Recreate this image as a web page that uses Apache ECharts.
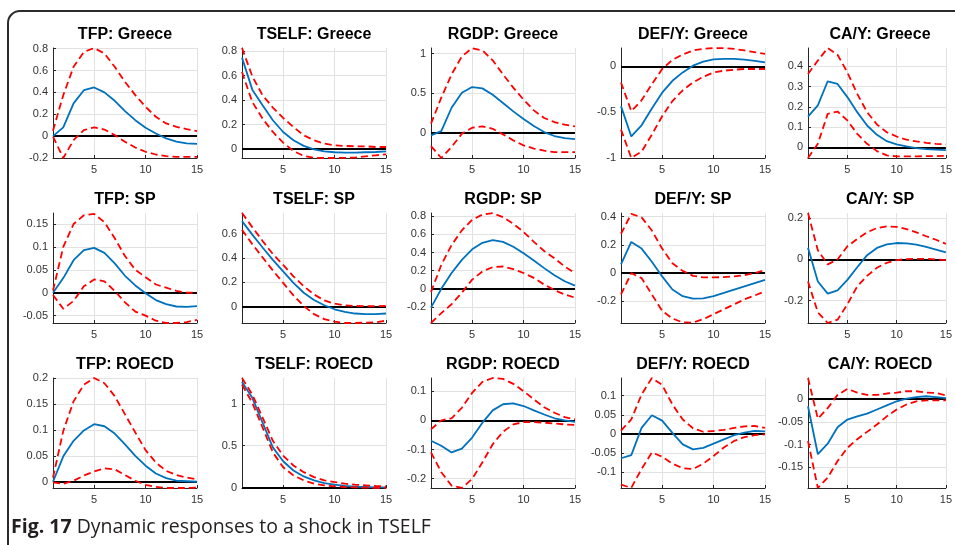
<!DOCTYPE html>
<html>
<head>
<meta charset="utf-8">
<title>Fig. 17</title>
<script src="https://cdn.jsdelivr.net/npm/echarts@6.0.0/dist/echarts.min.js"></script>
<style>
html, body { margin: 0; padding: 0; background: #fff; }
#chart { width: 955px; height: 545px; }
</style>
</head>
<body>
<div id="chart"></div>
<script type="application/javascript">

// horizons 1..15
var steps = ['1','2','3','4','5','6','7','8','9','10','11','12','13','14','15'];

// ---- Greece ----
var tfpGreeceMean = [0, 0.08, 0.30, 0.42, 0.445, 0.40, 0.323, 0.229, 0.146, 0.076, 0.024, -0.02, -0.05, -0.067, -0.07];
var tfpGreeceHi   = [0.05, 0.375, 0.634, 0.77, 0.805, 0.756, 0.634, 0.497, 0.375, 0.268, 0.177, 0.116, 0.085, 0.064, 0.046];
var tfpGreeceLo   = [-0.005, -0.2, -0.037, 0.055, 0.08, 0.06, 0.01, -0.052, -0.104, -0.143, -0.168, -0.183, -0.19, -0.19, -0.19];

var tselfGreeceMean = [0.748, 0.486, 0.358, 0.235, 0.139, 0.071, 0.025, -0.003, -0.019, -0.027, -0.03, -0.03, -0.027, -0.025, -0.02];
var tselfGreeceHi   = [0.827, 0.595, 0.44, 0.339, 0.254, 0.18, 0.112, 0.071, 0.044, 0.03, 0.025, 0.022, 0.022, 0.016, 0.016];
var tselfGreeceLo   = [0.63, 0.385, 0.249, 0.139, 0.052, -0.016, -0.057, -0.072, -0.074, -0.074, -0.073, -0.071, -0.06, -0.052, -0.044];

var rgdpGreeceMean = [-0.034, 0.02, 0.316, 0.506, 0.578, 0.561, 0.48, 0.376, 0.27, 0.173, 0.084, 0.008, -0.042, -0.068, -0.08];
var rgdpGreeceHi   = [0.114, 0.443, 0.738, 0.966, 1.07, 1.042, 0.916, 0.738, 0.57, 0.418, 0.283, 0.186, 0.135, 0.101, 0.08];
var rgdpGreeceLo   = [-0.169, -0.32, -0.18, -0.013, 0.063, 0.08, 0.05, -0.021, -0.097, -0.16, -0.2, -0.228, -0.245, -0.245, -0.245];

var defGreeceMean = [-0.434, -0.765, -0.643, -0.46, -0.287, -0.158, -0.066, 0.007, 0.051, 0.077, 0.081, 0.081, 0.074, 0.059, 0.044];
var defGreeceHi   = [-0.176, -0.489, -0.371, -0.195, -0.029, 0.07, 0.129, 0.173, 0.191, 0.2, 0.199, 0.191, 0.173, 0.154, 0.136];
var defGreeceLo   = [-0.69, -1.0, -0.93, -0.746, -0.544, -0.379, -0.261, -0.176, -0.114, -0.066, -0.048, -0.037, -0.029, -0.029, -0.029];

var caGreeceMean = [0.152, 0.207, 0.326, 0.313, 0.248, 0.174, 0.108, 0.062, 0.031, 0.015, 0.005, -0.003, -0.008, -0.011, -0.013];
var caGreeceHi   = [0.362, 0.428, 0.49, 0.457, 0.37, 0.264, 0.174, 0.113, 0.075, 0.054, 0.038, 0.03, 0.023, 0.018, 0.015];
var caGreeceLo   = [-0.052, 0.018, 0.166, 0.177, 0.133, 0.067, 0.018, -0.018, -0.039, -0.044, -0.044, -0.044, -0.043, -0.043, -0.041];

// ---- SP ----
var tfpSpMean = [0, 0.032, 0.071, 0.093, 0.098, 0.087, 0.064, 0.037, 0.016, -0.001, -0.016, -0.025, -0.03, -0.031, -0.029];
var tfpSpHi   = [0.005, 0.1, 0.15, 0.169, 0.172, 0.154, 0.119, 0.08, 0.05, 0.034, 0.018, 0.011, 0.004, 0, 0];
var tfpSpLo   = [-0.005, -0.035, -0.018, 0.014, 0.029, 0.025, 0.004, -0.021, -0.041, -0.05, -0.061, -0.066, -0.066, -0.064, -0.059];

var tselfSpMean = [0.703, 0.592, 0.486, 0.384, 0.289, 0.195, 0.114, 0.054, 0.011, -0.022, -0.043, -0.057, -0.062, -0.062, -0.057];
var tselfSpHi   = [0.77, 0.654, 0.54, 0.432, 0.343, 0.249, 0.168, 0.1, 0.051, 0.024, 0.011, 0.005, 0.003, 0.003, 0.005];
var tselfSpLo   = [0.632, 0.514, 0.405, 0.297, 0.195, 0.092, 0.005, -0.062, -0.103, -0.124, -0.135, -0.135, -0.132, -0.13, -0.116];

var rgdpSpMean = [-0.207, 0, 0.174, 0.319, 0.435, 0.507, 0.536, 0.518, 0.464, 0.391, 0.312, 0.228, 0.149, 0.083, 0.036];
var rgdpSpHi   = [-0.036, 0.264, 0.482, 0.645, 0.761, 0.819, 0.835, 0.79, 0.717, 0.627, 0.518, 0.417, 0.337, 0.246, 0.174];
var rgdpSpLo   = [-0.377, -0.268, -0.17, -0.043, 0.101, 0.192, 0.239, 0.246, 0.217, 0.174, 0.12, 0.047, -0.014, -0.062, -0.098];

var defSpMean = [0.063, 0.221, 0.174, 0.081, -0.023, -0.116, -0.163, -0.181, -0.179, -0.163, -0.14, -0.116, -0.093, -0.07, -0.047];
var defSpHi   = [0.279, 0.42, 0.395, 0.302, 0.174, 0.07, 0.016, -0.019, -0.03, -0.03, -0.028, -0.023, -0.014, 0, 0.023];
var defSpLo   = [-0.151, 0, -0.035, -0.151, -0.267, -0.321, -0.349, -0.35, -0.326, -0.291, -0.256, -0.221, -0.186, -0.158, -0.128];

var caSpMean = [0.057, -0.107, -0.166, -0.15, -0.099, -0.038, 0.021, 0.056, 0.073, 0.08, 0.078, 0.072, 0.061, 0.048, 0.035];
var caSpHi   = [0.226, 0.045, -0.024, 0, 0.064, 0.1, 0.132, 0.153, 0.161, 0.159, 0.148, 0.132, 0.113, 0.096, 0.076];
var caSpLo   = [-0.107, -0.257, -0.309, -0.293, -0.218, -0.131, -0.08, -0.04, -0.016, -0.003, 0.002, 0.003, 0.003, 0, -0.003];

// ---- ROECD ----
var tfpRoMean = [0, 0.049, 0.079, 0.099, 0.111, 0.107, 0.093, 0.072, 0.05, 0.031, 0.016, 0.007, 0.002, 0.001, 0];
var tfpRoHi   = [0.008, 0.098, 0.155, 0.187, 0.2, 0.19, 0.165, 0.13, 0.095, 0.061, 0.037, 0.021, 0.013, 0.008, 0.005];
var tfpRoLo   = [-0.001, -0.004, 0.002, 0.012, 0.02, 0.026, 0.024, 0.013, 0.002, -0.006, -0.01, -0.012, -0.012, -0.012, -0.011];

var tselfRoMean = [1.26, 1.071, 0.776, 0.48, 0.315, 0.205, 0.134, 0.087, 0.055, 0.035, 0.02, 0.012, 0.008, 0.004, 0.004];
var tselfRoHi   = [1.307, 1.11, 0.835, 0.559, 0.382, 0.264, 0.185, 0.126, 0.087, 0.067, 0.047, 0.035, 0.028, 0.02, 0.016];
var tselfRoLo   = [1.228, 1.012, 0.717, 0.421, 0.244, 0.146, 0.087, 0.047, 0.028, 0.016, 0.008, 0.004, 0, -0.002, -0.003];

var rgdpRoMean = [-0.07, -0.087, -0.11, -0.097, -0.059, -0.008, 0.034, 0.055, 0.058, 0.049, 0.034, 0.02, 0.007, 0, -0.005];
var rgdpRoHi   = [-0.031, 0, 0.007, 0.043, 0.094, 0.132, 0.145, 0.142, 0.125, 0.1, 0.072, 0.045, 0.026, 0.011, 0.003];
var rgdpRoLo   = [-0.11, -0.178, -0.224, -0.232, -0.201, -0.144, -0.082, -0.039, -0.014, -0.006, -0.006, -0.008, -0.011, -0.014, -0.016];

var defRoMean = [-0.063, -0.055, 0.016, 0.049, 0.035, 0.003, -0.027, -0.04, -0.036, -0.025, -0.014, -0.003, 0.004, 0.008, 0.007];
var defRoHi   = [0.009, 0.038, 0.103, 0.146, 0.128, 0.077, 0.038, 0.015, 0.006, 0.008, 0.011, 0.016, 0.02, 0.021, 0.016];
var defRoLo   = [-0.132, -0.14, -0.091, -0.048, -0.059, -0.077, -0.089, -0.091, -0.077, -0.057, -0.035, -0.018, -0.008, -0.003, -0.001];

var caRoMean = [-0.016, -0.121, -0.098, -0.062, -0.045, -0.038, -0.032, -0.023, -0.014, -0.005, 0.001, 0.004, 0.006, 0.004, 0.002];
var caRoHi   = [0.046, -0.043, -0.02, 0.009, 0.022, 0.014, 0.009, 0.009, 0.012, 0.014, 0.017, 0.017, 0.014, 0.013, 0.008];
var caRoLo   = [-0.092, -0.195, -0.172, -0.136, -0.107, -0.088, -0.072, -0.056, -0.038, -0.023, -0.012, -0.005, -0.003, -0.003, -0.003];

// panel titles, y limits (axis tight) and y tick labels
var titles = [
    'TFP: Greece', 'TSELF: Greece', 'RGDP: Greece', 'DEF/Y: Greece', 'CA/Y: Greece',
    'TFP: SP', 'TSELF: SP', 'RGDP: SP', 'DEF/Y: SP', 'CA/Y: SP',
    'TFP: ROECD', 'TSELF: ROECD', 'RGDP: ROECD', 'DEF/Y: ROECD', 'CA/Y: ROECD'
];
var yLimits = [
    [-0.2, 0.806], [-0.074, 0.827], [-0.32, 1.072], [-1, 0.2], [-0.052, 0.49],
    [-0.066, 0.174], [-0.135, 0.77], [-0.377, 0.836], [-0.353, 0.426], [-0.309, 0.226],
    [-0.012, 0.2], [-0.004, 1.307], [-0.232, 0.145], [-0.1405, 0.146], [-0.195, 0.046]
];
var yTicks = [
    [-0.2, 0, 0.2, 0.4, 0.6, 0.8], [0, 0.2, 0.4, 0.6, 0.8], [0, 0.5, 1], [-1, -0.5, 0], [0, 0.1, 0.2, 0.3, 0.4],
    [-0.05, 0, 0.05, 0.1, 0.15], [0, 0.2, 0.4, 0.6], [-0.2, 0, 0.2, 0.4, 0.6, 0.8], [-0.2, 0, 0.2, 0.4], [-0.2, 0, 0.2],
    [0, 0.05, 0.1, 0.15, 0.2], [0, 0.5, 1], [-0.2, -0.1, 0, 0.1], [-0.1, -0.05, 0, 0.05, 0.1], [-0.15, -0.1, -0.05, 0]
];
var means = [tfpGreeceMean, tselfGreeceMean, rgdpGreeceMean, defGreeceMean, caGreeceMean,
             tfpSpMean, tselfSpMean, rgdpSpMean, defSpMean, caSpMean,
             tfpRoMean, tselfRoMean, rgdpRoMean, defRoMean, caRoMean];
var highs = [tfpGreeceHi, tselfGreeceHi, rgdpGreeceHi, defGreeceHi, caGreeceHi,
             tfpSpHi, tselfSpHi, rgdpSpHi, defSpHi, caSpHi,
             tfpRoHi, tselfRoHi, rgdpRoHi, defRoHi, caRoHi];
var lows = [tfpGreeceLo, tselfGreeceLo, rgdpGreeceLo, defGreeceLo, caGreeceLo,
            tfpSpLo, tselfSpLo, rgdpSpLo, defSpLo, caSpLo,
            tfpRoLo, tselfRoLo, rgdpRoLo, defRoLo, caRoLo];

// layout of the 3x5 subplots
var colLeft = [53, 242, 431, 621, 808];
var rowTop = [48, 213, 378];
var plotW = 144, plotH = 110;

var axisColor = '#262626';
var gridColor = '#e2e2e2';
var labelFont = 'Liberation Sans';

function everyFifth(idx) {
    return (idx + 1) % 5 === 0;
}

var grids = [], xAxes = [], yAxes = [], titleList = [], seriesList = [];

for (var i = 0; i < 15; i++) {
    var r = Math.floor(i / 5), c = i % 5;
    grids.push({left: colLeft[c], top: rowTop[r], width: plotW, height: plotH});

    titleList.push({
        text: titles[i],
        left: colLeft[c] + plotW / 2,
        top: rowTop[r] - 21,
        textAlign: 'center',
        padding: 0,
        textStyle: {fontSize: 16, fontWeight: 'bold', color: '#000', fontFamily: labelFont, lineHeight: 16}
    });

    xAxes.push({
        type: 'category',
        gridIndex: i,
        data: steps,
        boundaryGap: false,
        axisLine: {onZero: false, lineStyle: {color: axisColor, width: 1}},
        axisTick: {show: true, inside: true, length: 3, interval: everyFifth, lineStyle: {color: axisColor}},
        axisLabel: {interval: everyFifth, color: '#333', fontSize: 11, fontFamily: labelFont, margin: 6},
        splitLine: {show: true, interval: everyFifth, lineStyle: {color: gridColor, width: 1}}
    });

    yAxes.push({
        type: 'value',
        gridIndex: i,
        min: yLimits[i][0],
        max: yLimits[i][1],
        axisLine: {show: true, lineStyle: {color: axisColor, width: 1}},
        axisTick: {show: true, inside: true, length: 3, customValues: yTicks[i], lineStyle: {color: axisColor}},
        axisLabel: {
            customValues: yTicks[i],
            color: '#333', fontSize: 11, fontFamily: labelFont, margin: 5,
            formatter: function (v) { return String(Math.round(v * 1000) / 1000); }
        },
        splitLine: {show: true, lineStyle: {color: gridColor, width: 1}}
    });

    seriesList.push({
        type: 'line', xAxisIndex: i, yAxisIndex: i, data: means[i],
        symbol: 'none', silent: true,
        lineStyle: {color: '#0072bd', width: 1.8},
        markLine: {
            silent: true, symbol: 'none', z: 1,
            label: {show: false},
            lineStyle: {color: '#000', type: 'solid', width: 2},
            data: [{yAxis: 0}]
        }
    });
    seriesList.push({
        type: 'line', xAxisIndex: i, yAxisIndex: i, data: highs[i],
        symbol: 'none', silent: true,
        lineStyle: {color: '#ff0000', width: 1.8, type: [7, 4]}
    });
    seriesList.push({
        type: 'line', xAxisIndex: i, yAxisIndex: i, data: lows[i],
        symbol: 'none', silent: true,
        lineStyle: {color: '#ff0000', width: 1.8, type: [7, 4]}
    });
}

var myChart = echarts.init(document.getElementById('chart'));
myChart.setOption({
    animation: false,
    backgroundColor: '#fff',
    title: titleList,
    grid: grids,
    xAxis: xAxes,
    yAxis: yAxes,
    series: seriesList,
    graphic: [
        {
            // rounded frame, only its top and left edges fall inside the picture
            type: 'rect', z: 0, silent: true,
            shape: {x: 8, y: 11, width: 1100, height: 700, r: 12},
            style: {fill: 'none', stroke: '#2b2b2b', lineWidth: 2}
        },
        {
            type: 'text', left: 11, top: 517, silent: true,
            style: {
                text: '{b|Fig. 17} Dynamic responses to a shock in TSELF',
                fontSize: 19.5, fontFamily: 'Open Sans', fill: '#231f20',
                rich: {b: {fontSize: 19.5, fontFamily: 'Open Sans', fontWeight: 'bold', fill: '#231f20'}}
            }
        }
    ]
});
</script>
</body>
</html>
